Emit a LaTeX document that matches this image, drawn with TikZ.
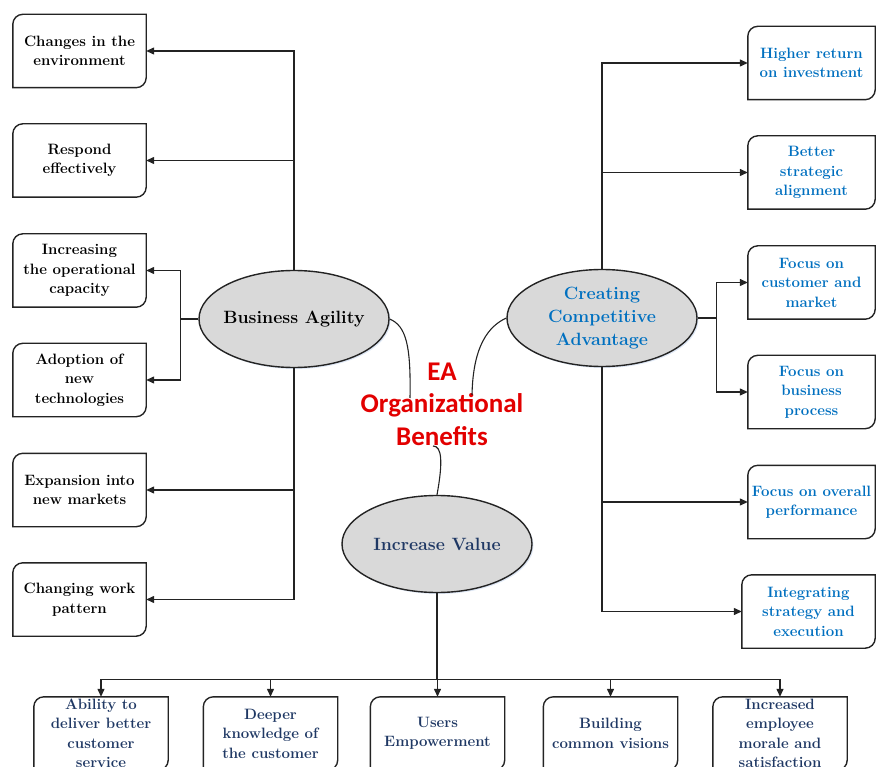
\documentclass[tikz,border=0pt]{standalone}
\usepackage{fontspec}
\newfontfamily\titlefont{Carlito}
\usetikzlibrary{shapes.geometric,arrows.meta,calc}

\definecolor{linegray}{RGB}{35,35,35}
\definecolor{accblue}{RGB}{0,112,192}
\definecolor{navy}{RGB}{31,56,100}
\definecolor{eared}{RGB}{226,0,0}
\definecolor{ovalfill}{RGB}{217,217,217}
\definecolor{glow}{RGB}{200,215,238}

\pgfdeclarelayer{background}
\pgfsetlayers{background,main}

\tikzset{
  conn/.style={draw=linegray, line width=1.3pt, -{Triangle[length=8pt,width=7pt]}},
  link/.style={draw=linegray, line width=1.3pt},
  boxline/.style={draw=linegray, line width=1.4pt, fill=white},
  item/.style={minimum width=133pt, minimum height=73pt, inner sep=0pt,
    align=center, font=\bfseries\fontsize{15}{19.5}\selectfont},
  oval/.style={ellipse, draw=linegray, line width=1.4pt, fill=ovalfill,
    minimum width=190pt, minimum height=97pt, inner xsep=-6pt, inner ysep=0pt,
    align=center, font=\bfseries\fontsize{17.8}{23}\selectfont},
  title/.style={font=\titlefont\bfseries\fontsize{27}{32.5}\selectfont,
    text=eared, align=center, inner sep=0pt},
}

% outline path with rounded top-left and bottom-right corners
\newcommand\cornerpath[1]{%
  ([yshift=-10pt]#1.north west)
  .. controls ([yshift=-4.5pt]#1.north west) and ([xshift=4.5pt]#1.north west) .. ([xshift=10pt]#1.north west)
  -- (#1.north east) -- ([yshift=10pt]#1.south east)
  .. controls ([yshift=4.5pt]#1.south east) and ([xshift=-4.5pt]#1.south east) .. ([xshift=-10pt]#1.south east)
  -- (#1.south west) -- cycle}

% box outline plus a faint glow behind it
\newcommand\cornerbox[1]{%
  \begin{pgfonlayer}{background}
    \fill[glow, opacity=0.6, xshift=1.5pt, yshift=-1.5pt] \cornerpath{#1};
    \draw[boxline] \cornerpath{#1};
  \end{pgfonlayer}}

\begin{document}
\begin{tikzpicture}[x=1pt,y=-1pt]
\useasboundingbox (0,0) rectangle (876,767);
\clip (0,0) rectangle (876,767);

% central ovals
\node[oval] (ba) at (294,319) {Business Agility};
\node[oval, text=accblue] (ca) at (602,318) {Creating\\Competitive\\Advantage};
\node[oval, text=navy] (iv) at (437,544) {Increase Value};
\begin{pgfonlayer}{background}
  \foreach \o in {ba,ca,iv}
    \fill[glow, opacity=0.6] ([xshift=1.5pt,yshift=-1.5pt]\o.center) ellipse [x radius=95pt, y radius=48.5pt];
\end{pgfonlayer}

% title
\node[title] (ea) at (442,404) {EA\\Organizational\\Benefits};

% left column
\node[item] (l1) at (79.5,51)    {Changes in the\\environment};
\node[item] (l2) at (79.5,160.5) {Respond\\effectively};
\node[item] (l3) at (79.5,270.5) {Increasing\\the operational\\capacity};
\node[item] (l4) at (79.5,380)   {Adoption of\\new\\technologies};
\node[item] (l5) at (79.5,490)   {Expansion into\\new markets};
\node[item] (l6) at (79.5,599.5) {Changing work\\pattern};

% right column
\node[item, text=accblue, minimum width=127pt] (r1) at (811.5,63)    {Higher return\\on investment};
\node[item, text=accblue, minimum width=127pt] (r2) at (811.5,172.5) {Better\\strategic\\alignment};
\node[item, text=accblue, minimum width=127pt] (r3) at (811.5,282.5) {Focus on\\customer and\\market};
\node[item, text=accblue, minimum width=127pt] (r4) at (811.5,392)   {Focus on\\business\\process};
\node[item, text=accblue, minimum width=127pt] (r5) at (811.5,502)   {Focus on overall\\performance};
\node[item, text=accblue] (r6) at (808.5,611.5) {Integrating\\strategy and\\execution};

% bottom row
\node[item, text=navy, minimum width=134pt] (b1) at (101,733.5)   {Ability to\\deliver better\\customer\\service};
\node[item, text=navy, minimum width=134pt] (b2) at (270.5,733.5) {Deeper\\knowledge of\\the customer};
\node[item, text=navy, minimum width=134pt] (b3) at (437.5,733.5) {Users\\Empowerment};
\node[item, text=navy, minimum width=134pt] (b4) at (610.5,733.5) {Building\\common visions};
\node[item, text=navy, minimum width=134pt] (b5) at (780,733.5)   {Increased\\employee\\morale and\\satisfaction};

\foreach \b in {l1,l2,l3,l4,l5,l6,r1,r2,r3,r4,r5,r6,b1,b2,b3,b4,b5}
  \cornerbox{\b};

% Business Agility branches
\draw[conn] (ba.north) |- (l1.east);
\draw[conn] (ba.north |- l2.east) -- (l2.east);
\draw[link] (ba.west) -- ++(-18,0) coordinate (lfork);
\draw[conn] (lfork) |- (l3.east);
\draw[conn] (lfork) |- (l4.east);
\draw[conn] (ba.south) |- (l6.east);
\draw[conn] (ba.south |- l5.east) -- (l5.east);

% Competitive Advantage branches
\draw[conn] (ca.north) |- (r1.west);
\draw[conn] (ca.north |- r2.west) -- (r2.west);
\draw[link] (ca.east) -- ++(19,0) coordinate (rfork);
\draw[conn] (rfork) |- (r3.west);
\draw[conn] (rfork) |- (r4.west);
\draw[conn] (ca.south) |- (r6.west);
\draw[conn] (ca.south |- r5.west) -- (r5.west);

% Increase Value branches
\draw[link] (iv.south) -- ++(0,86) coordinate (bus);
\draw[link] (b1.north |- bus) -- (b5.north |- bus);
\foreach \b in {b1,b2,b3,b4,b5}
  \draw[conn] (\b.north |- bus) -- (\b.north);

% curved links to the title
\coordinate (eaL) at (410,398);
\coordinate (eaR) at (472,395);
\coordinate (eaB) at (433,446);
\draw[link, line width=1.1pt] (ba.east) .. controls (406,326) and (411,345) .. (eaL);
\draw[link, line width=1.1pt] (ca.west) .. controls (489,326) and (473,345) .. (eaR);
\draw[link, line width=1.1pt] (eaB) .. controls (442,446) and (443,462) .. (iv.north);
\end{tikzpicture}
\end{document}
